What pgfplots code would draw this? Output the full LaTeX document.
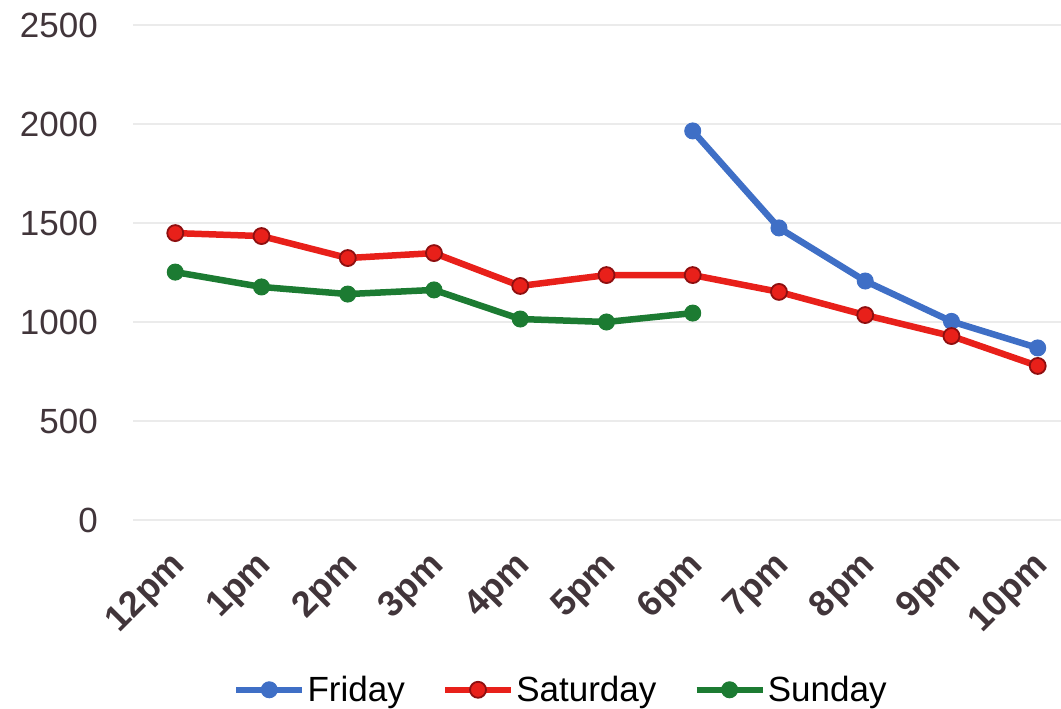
\documentclass[border=0pt]{standalone}
\usepackage{pgfplots}
\pgfplotsset{compat=1.18}
\usepackage{fontspec}
\setmainfont{Liberation Sans}

\definecolor{friBlue}{HTML}{3F6FC6}
\definecolor{satRed}{HTML}{E8201A}
\definecolor{satEdge}{HTML}{8E0F10}
\definecolor{sunGreen}{HTML}{1C7B32}
\definecolor{tickText}{HTML}{41353A}
\definecolor{gridGray}{HTML}{EBEBEB}

\begin{document}
\begin{tikzpicture}
\begin{axis}[
  at={(133pt,189pt)}, anchor=south west,
  scale only axis,
  width=928pt, height=495pt,
  xmin=-0.49, xmax=10.27,
  ymin=0, ymax=2500,
  xtick={0,...,10},
  xticklabels={12pm,1pm,2pm,3pm,4pm,5pm,6pm,7pm,8pm,9pm,10pm},
  ytick={0,500,1000,1500,2000,2500},
  axis line style={draw=none},
  major tick length=0pt,
  ymajorgrids,
  grid style={gridGray, line width=1.5pt},
  /pgf/number format/assume math mode=true,
  /pgf/number format/1000 sep={},
  yticklabel style={font=\fontsize{35}{40}\selectfont, text=tickText,
    inner sep=0pt, anchor=east, xshift=-35pt},
  % shifts act in the rotated frame
  xticklabel style={font=\fontsize{36}{40}\selectfont\bfseries, text=tickText,
    inner sep=0pt, rotate=45, anchor=east, xshift=-25pt, yshift=-32pt},
  legend style={draw=none, fill=none, at={(0.461,-0.343)}, anchor=center,
    legend columns=3, font=\fontsize{35}{40}\selectfont,
    /tikz/every even column/.append style={column sep=35pt},
    nodes={inner sep=2pt}},
  legend image code/.code={
    \draw[mark repeat=2, mark phase=2] plot coordinates {(0pt,0pt) (33pt,0pt) (66pt,0pt)};},
  every axis plot/.append style={line width=6.5pt, mark=*, mark size=8pt},
]
\addplot[color=friBlue, mark options={fill=friBlue, draw=friBlue, line width=1pt}]
coordinates {
(6,1965)
(7,1475)
(8,1207)
(9,1003)
(10,869)
};
\addlegendentry{Friday}

\addplot[color=satRed, mark options={fill=satRed, draw=satEdge, line width=1.8pt}]
coordinates {
(0,1449)
(1,1434)
(2,1323)
(3,1348)
(4,1182)
(5,1237)
(6,1237)
(7,1152)
(8,1035)
(9,929)
(10,778)
};
\addlegendentry{Saturday}

\addplot[color=sunGreen, mark options={fill=sunGreen, draw=sunGreen, line width=1pt}]
coordinates {
(0,1252)
(1,1177)
(2,1141)
(3,1162)
(4,1015)
(5,1000)
(6,1045)
};
\addlegendentry{Sunday}
\end{axis}
\pgfresetboundingbox
\path (0,0) rectangle (1061pt,709pt);
\end{tikzpicture}
\end{document}
